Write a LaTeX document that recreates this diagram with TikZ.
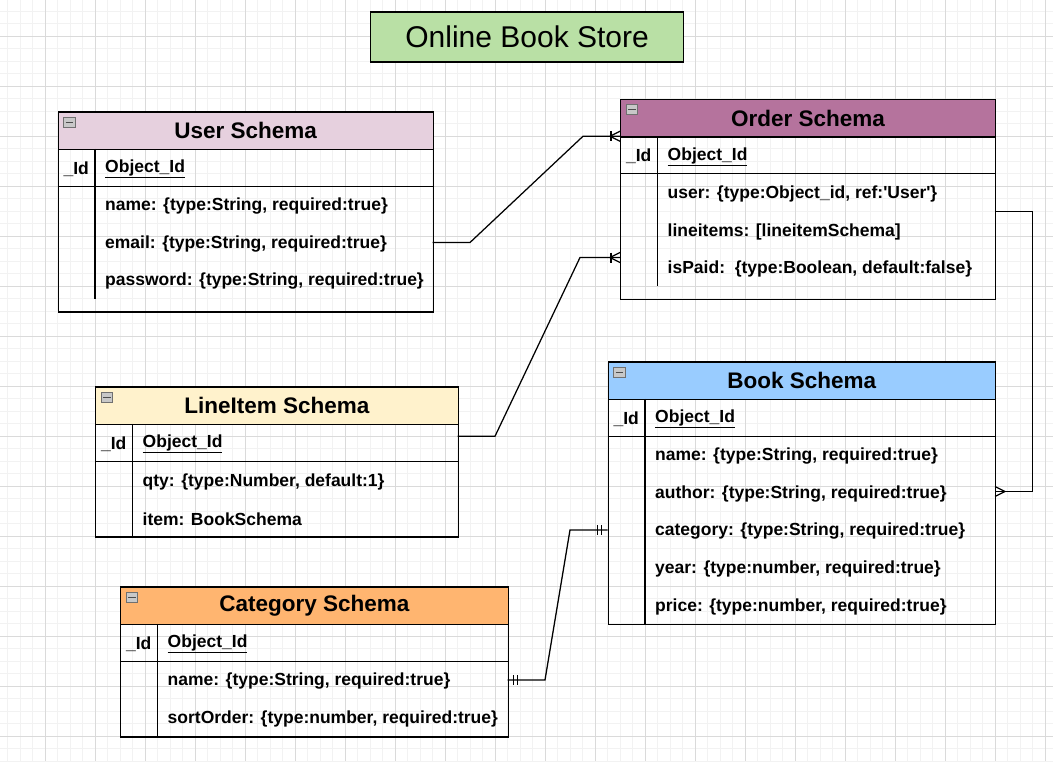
\documentclass[tikz,border=0pt]{standalone}
\usepackage{fontspec}
\setmainfont{Liberation Sans}
\usetikzlibrary{calc}
\definecolor{gridminor}{HTML}{F2F2F2}
\definecolor{gridmajor}{HTML}{DADADA}
\definecolor{titlec}{HTML}{B9E0A5}
\definecolor{userc}{HTML}{E6D0DE}
\definecolor{orderc}{HTML}{B5739D}
\definecolor{linec}{HTML}{FFF2CC}
\definecolor{bookc}{HTML}{99CCFF}
\definecolor{catc}{HTML}{FFB570}
\definecolor{iconfill}{HTML}{C8C8C8}
\definecolor{iconline}{HTML}{707070}
\tikzset{
  boxline/.style={draw=black, line width=1.25pt},
  hdrbox/.style={boxline, anchor=north west, inner sep=0pt, minimum height=37.5pt,
     font=\fontsize{22.5}{27}\selectfont\bfseries},
  bodybox/.style={boxline, anchor=north west, inner sep=0pt},
  idtxt/.style={inner sep=0pt, yshift=-1.5pt, font=\fontsize{17.5}{21}\selectfont\bfseries},
  fld/.style={anchor=west, inner sep=0pt, yshift=-1.5pt, font=\fontsize{17.5}{21}\selectfont\bfseries},
  conn/.style={draw=black, line width=1.25pt},
  iconbox/.style={draw=iconline, fill=iconfill, line width=0.9pt},
  iconminus/.style={draw=black!70, line width=1.4pt},
}
\newcommand{\colicon}[1]{%
  \draw[iconbox] ($(#1.north west)+(6,6)$) rectangle ++(11.5,10);
  \draw[iconminus] ($(#1.north west)+(8,11)$) -- ++(7.5,0);}
\newcommand{\sq}{\textquotesingle}
\begin{document}
\begin{tikzpicture}[x=1pt,y=-1pt]
\useasboundingbox (0,0) rectangle (1053,761);
\fill[white] (0,0) rectangle (1053,761);
% grid
\foreach \gx in {-4.7,7.8,...,1060} \draw[gridminor, line width=1pt] (\gx,0) -- (\gx,761);
\foreach \gy in {-1.5,11,...,765} \draw[gridminor, line width=1pt] (0,\gy) -- (1053,\gy);
\foreach \gx in {-4.7,45.3,...,1060} \draw[gridmajor, line width=1pt] (\gx,0) -- (\gx,761);
\foreach \gy in {-14,36,...,765} \draw[gridmajor, line width=1pt] (0,\gy) -- (1053,\gy);

% title
\node[boxline, fill=titlec, anchor=north west, minimum width=313pt, minimum height=50pt,
  inner sep=0pt, font=\fontsize{30}{36}\selectfont] (title) at (370,11.25) {Online Book Store};

% ===== User Schema =====
\node[hdrbox, fill=userc, minimum width=375pt] (userH) at (57.5,111.25) {User Schema};
\node[bodybox, minimum width=375pt, minimum height=162.5pt] (userB) at (57.5,148.75) {};
\draw[boxline] (57.5,186.25) -- (432.5,186.25);
\draw[boxline] (95,148.75) -- (95,298.75);
\colicon{userH}
\node[idtxt] (userIdK) at (76.25,167.5) {\_Id};
\node[fld] (userIdV) at (105,167.5) {\underline{Object\_Id}};
\node[fld] (userF1) at (105,205) {name: \{type:String, required:true\}};
\node[fld] (userF2) at (105,242.5) {email: \{type:String, required:true\}};
\node[fld] (userF3) at (105,280) {password: \{type:String, required:true\}};

% ===== Order Schema =====
\node[hdrbox, fill=orderc, minimum width=375pt] (orderH) at (620,98.75) {Order Schema};
\node[bodybox, minimum width=375pt, minimum height=162.5pt] (orderB) at (620,136.25) {};
\draw[boxline] (620,173.75) -- (995,173.75);
\draw[boxline] (657.5,136.25) -- (657.5,286.25);
\colicon{orderH}
\node[idtxt] (orderIdK) at (638.75,155) {\_Id};
\node[fld] (orderIdV) at (667.5,155) {\underline{Object\_Id}};
\node[fld] (orderF1) at (667.5,192.5) {user: \{type:Object\_id, ref:\sq User\sq\}};
\node[fld] (orderF2) at (667.5,230) {lineitems: [lineitemSchema]};
\node[fld] (orderF3) at (667.5,267.5) {isPaid:\ \ \{type:Boolean, default:false\}};

% ===== LineItem Schema =====
\node[hdrbox, fill=linec, minimum width=362.5pt] (lineH) at (95,386.25) {LineItem Schema};
\node[bodybox, minimum width=362.5pt, minimum height=112.5pt] (lineB) at (95,423.75) {};
\draw[boxline] (95,461.25) -- (457.5,461.25);
\draw[boxline] (132.5,423.75) -- (132.5,536.25);
\colicon{lineH}
\node[idtxt] (lineIdK) at (113.75,442.5) {\_Id};
\node[fld] (lineIdV) at (142.5,442.5) {\underline{Object\_Id}};
\node[fld] (lineF1) at (142.5,480) {qty: \{type:Number, default:1\}};
\node[fld] (lineF2) at (142.5,517.5) {item: BookSchema};

% ===== Book Schema =====
\node[hdrbox, fill=bookc, minimum width=387.5pt] (bookH) at (607.5,361.25) {Book Schema};
\node[bodybox, minimum width=387.5pt, minimum height=225pt] (bookB) at (607.5,398.75) {};
\draw[boxline] (607.5,436.25) -- (995,436.25);
\draw[boxline] (645,398.75) -- (645,623.75);
\colicon{bookH}
\node[idtxt] (bookIdK) at (626.25,417.5) {\_Id};
\node[fld] (bookIdV) at (655,417.5) {\underline{Object\_Id}};
\node[fld] (bookF1) at (655,455) {name: \{type:String, required:true\}};
\node[fld] (bookF2) at (655,492.5) {author: \{type:String, required:true\}};
\node[fld] (bookF3) at (655,530) {category: \{type:String, required:true\}};
\node[fld] (bookF4) at (655,567.5) {year: \{type:number, required:true\}};
\node[fld] (bookF5) at (655,605) {price: \{type:number, required:true\}};

% ===== Category Schema =====
\node[hdrbox, fill=catc, minimum width=387.5pt] (catH) at (120,586.25) {Category Schema};
\node[bodybox, minimum width=387.5pt, minimum height=112.5pt] (catB) at (120,623.75) {};
\draw[boxline] (120,661.25) -- (507.5,661.25);
\draw[boxline] (157.5,623.75) -- (157.5,736.25);
\colicon{catH}
\node[idtxt] (catIdK) at (138.75,642.5) {\_Id};
\node[fld] (catIdV) at (167.5,642.5) {\underline{Object\_Id}};
\node[fld] (catF1) at (167.5,680) {name: \{type:String, required:true\}};
\node[fld] (catF2) at (167.5,717.5) {sortOrder: \{type:number, required:true\}};

% ===== connector end points =====
\coordinate (c1s) at (432.5,242.5);
\coordinate (c1e) at (620,136.25);
\coordinate (c2s) at (457.5,436.25);
\coordinate (c2e) at (620,257.5);
\coordinate (c3s) at (995,211.25);
\coordinate (c3e) at (995,491.5);
\coordinate (c4s) at (507.5,680);
\coordinate (c4e) at (607.5,530);

% User -> Order
\draw[conn] (c1s) -- ++(37.5,0) -- (583,136.25) -- (c1e);
\draw[conn] ($(c1e)+(-10,0)$) -- ($(c1e)+(0,-5)$);
\draw[conn] ($(c1e)+(-10,0)$) -- ($(c1e)+(0,5)$);
\draw[conn] ($(c1e)+(-9,-5)$) -- ($(c1e)+(-9,5)$);
% LineItem -> Order
\draw[conn] (c2s) -- ++(37.5,0) -- (580,257.5) -- (c2e);
\draw[conn] ($(c2e)+(-10,0)$) -- ($(c2e)+(0,-5)$);
\draw[conn] ($(c2e)+(-10,0)$) -- ($(c2e)+(0,5)$);
\draw[conn] ($(c2e)+(-9,-5)$) -- ($(c2e)+(-9,5)$);
% Order -> Book
\draw[conn] (c3s) -- (1032.5,211.25) -- (1032.5,491.5) -- (c3e);
\draw[conn] ($(c3e)+(10,0)$) -- ($(c3e)+(0,-5)$);
\draw[conn] ($(c3e)+(10,0)$) -- ($(c3e)+(0,5)$);
% Category -> Book
\draw[conn] (c4s) -- ++(37.5,0) -- (570,530) -- (c4e);
\draw[conn] ($(c4s)+(6,-5)$) -- ($(c4s)+(6,5)$);
\draw[conn] ($(c4s)+(10,-5)$) -- ($(c4s)+(10,5)$);
\draw[conn] ($(c4e)+(-6,-5)$) -- ($(c4e)+(-6,5)$);
\draw[conn] ($(c4e)+(-10,-5)$) -- ($(c4e)+(-10,5)$);
\end{tikzpicture}
\end{document}
